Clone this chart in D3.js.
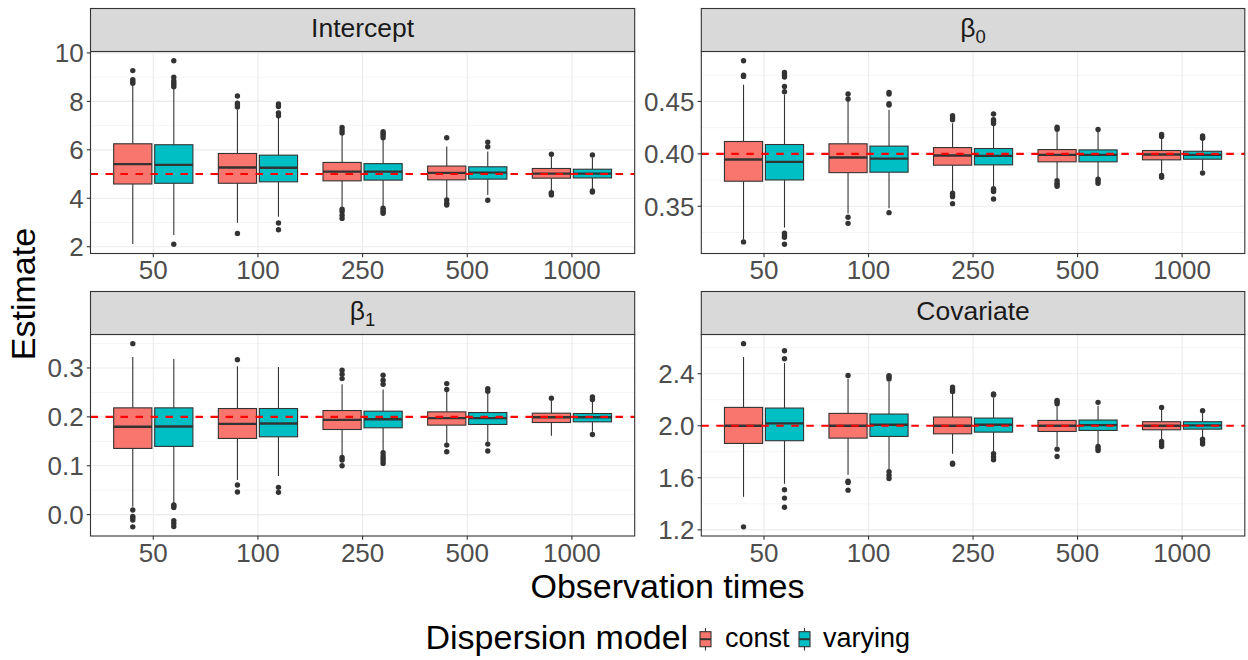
<!DOCTYPE html>
<html>
<head>
<meta charset="utf-8">
<script src="https://cdn.jsdelivr.net/npm/d3@7"></script>
<style>
  html, body { margin: 0; padding: 0; background: #ffffff; }
  svg { display: block; font-family: "Liberation Sans", Arial, Helvetica, sans-serif; }
</style>
</head>
<body>
<svg id="chart" width="1248" height="660"></svg>
<script>
// ---------------- DATA ----------------
const obsTimes = ["50", "100", "250", "500", "1000"];
const models = ["const", "varying"];
const modelColors = ["#F8766D", "#00BFC4"];

const stripMain = ["Intercept", "β", "β", "Covariate"];
const stripSub = ["", "0", "1", ""];
const trueValues = [5, 0.4, 0.2, 2.0];

const yTicksIntercept = [2, 4, 6, 8, 10];
const yTicksBeta0 = [0.35, 0.40, 0.45];
const yTicksBeta1 = [0.0, 0.1, 0.2, 0.3];
const yTicksCovariate = [1.2, 1.6, 2.0, 2.4];
const yTickLabelsIntercept = ["2", "4", "6", "8", "10"];
const yTickLabelsBeta0 = ["0.35", "0.40", "0.45"];
const yTickLabelsBeta1 = ["0.0", "0.1", "0.2", "0.3"];
const yTickLabelsCovariate = ["1.2", "1.6", "2.0", "2.4"];

// box stats per observation time: [lower whisker, Q1, median, Q3, upper whisker]
const interceptConst = [
  [2.11, 4.59, 5.41, 6.25, 8.65],
  [2.99, 4.62, 5.27, 5.85, 7.65],
  [3.65, 4.72, 5.10, 5.48, 6.62],
  [4.00, 4.76, 5.05, 5.33, 6.14],
  [4.32, 4.83, 5.02, 5.23, 5.72]
];
const interceptConstOut = [
  [8.75, 8.82, 8.90, 9.27],
  [2.55, 7.77, 7.85, 7.93, 8.22],
  [3.17, 3.30, 3.45, 3.55, 6.70, 6.80, 6.92],
  [3.72, 3.80, 3.93, 6.50],
  [4.14, 4.20, 4.23, 5.82]
];
const interceptVarying = [
  [2.48, 4.62, 5.38, 6.21, 8.55],
  [3.24, 4.68, 5.26, 5.78, 7.59],
  [3.65, 4.75, 5.10, 5.43, 6.48],
  [4.14, 4.79, 5.06, 5.30, 5.93],
  [4.38, 4.84, 5.02, 5.20, 5.68]
];
const interceptVaryingOut = [
  [2.10, 8.60, 8.68, 8.76, 8.85, 9.00, 9.68],
  [2.70, 2.98, 7.41, 7.52, 7.79, 7.89],
  [3.38, 3.45, 3.52, 3.59, 6.50, 6.60, 6.68, 6.75],
  [3.92, 6.13, 6.32],
  [4.26, 4.30, 5.79]
];

const beta0Const = [
  [0.3180, 0.3739, 0.3946, 0.4118, 0.4660],
  [0.3430, 0.3821, 0.3965, 0.4096, 0.4510],
  [0.3640, 0.3892, 0.3984, 0.4060, 0.4293],
  [0.3768, 0.3924, 0.3990, 0.4041, 0.4213],
  [0.3815, 0.3943, 0.3994, 0.4032, 0.4155]
];
const beta0ConstOut = [
  [0.3160, 0.4739, 0.4750, 0.4889],
  [0.3337, 0.3395, 0.4523, 0.4571],
  [0.3525, 0.3592, 0.3608, 0.3624, 0.4325, 0.4345, 0.4363],
  [0.3690, 0.3705, 0.3720, 0.3745, 0.4235, 0.4255],
  [0.3777, 0.3795, 0.4165, 0.4185]
];
const beta0Varying = [
  [0.3296, 0.3751, 0.3924, 0.4089, 0.4564],
  [0.3480, 0.3825, 0.3955, 0.4074, 0.4420],
  [0.3687, 0.3895, 0.3981, 0.4051, 0.4277],
  [0.3768, 0.3924, 0.3990, 0.4038, 0.4213],
  [0.3847, 0.3949, 0.3990, 0.4025, 0.4145]
];
const beta0VaryingOut = [
  [0.3137, 0.3204, 0.3220, 0.3242, 0.4593, 0.4643, 0.4733, 0.4755, 0.4777],
  [0.3439, 0.4465, 0.4478, 0.4570, 0.4586],
  [0.3570, 0.3640, 0.3655, 0.3668, 0.4290, 0.4310, 0.4325, 0.4380],
  [0.3720, 0.3740, 0.3758, 0.4232],
  [0.3818, 0.4150, 0.4160, 0.4170]
];

const beta1Const = [
  [0.0163, 0.1354, 0.1796, 0.2184, 0.3224],
  [0.0707, 0.1558, 0.1857, 0.2170, 0.3034],
  [0.1218, 0.1741, 0.1939, 0.2129, 0.2667],
  [0.1456, 0.1830, 0.1973, 0.2102, 0.2520],
  [0.1612, 0.1884, 0.1993, 0.2075, 0.2327]
];
const beta1ConstOut = [
  [-0.0250, -0.0110, -0.0070, -0.0040, 0.0095, 0.3497],
  [0.0463, 0.0605, 0.3170],
  [0.1000, 0.1116, 0.1170, 0.2782, 0.2871, 0.2952],
  [0.1286, 0.1422, 0.2558, 0.2680],
  [0.2381]
];
const beta1Varying = [
  [0.0231, 0.1395, 0.1803, 0.2184, 0.3184],
  [0.0789, 0.1592, 0.1864, 0.2170, 0.3020],
  [0.1286, 0.1776, 0.1952, 0.2116, 0.2558],
  [0.1490, 0.1844, 0.1973, 0.2088, 0.2476],
  [0.1694, 0.1898, 0.1993, 0.2068, 0.2306]
];
const beta1VaryingOut = [
  [-0.0245, -0.0180, -0.0122, 0.0143, 0.0175, 0.0197],
  [0.0456, 0.0558],
  [0.1048, 0.1100, 0.1150, 0.1200, 0.1265, 0.2667, 0.2748, 0.2850],
  [0.1300, 0.1442, 0.2524, 0.2578],
  [0.1639, 0.2354, 0.2408]
];

const covariateConst = [
  [1.454, 1.864, 2.000, 2.141, 2.528],
  [1.623, 1.905, 2.000, 2.095, 2.364],
  [1.785, 1.938, 2.000, 2.067, 2.251],
  [1.841, 1.956, 2.000, 2.041, 2.160],
  [1.892, 1.969, 2.000, 2.031, 2.123]
];
const covariateConstOut = [
  [1.223, 2.631],
  [1.505, 1.564, 1.574, 2.387],
  [1.705, 1.712, 2.264, 2.280, 2.297],
  [1.764, 1.820, 2.170, 2.185, 2.195],
  [1.841, 1.860, 1.879, 2.141]
];
const covariateVarying = [
  [1.554, 1.885, 2.018, 2.136, 2.482],
  [1.667, 1.918, 2.008, 2.090, 2.341],
  [1.795, 1.951, 2.008, 2.059, 2.213],
  [1.854, 1.964, 2.005, 2.044, 2.154],
  [1.905, 1.974, 2.003, 2.031, 2.097]
];
const covariateVaryingOut = [
  [1.374, 1.444, 1.508, 2.515, 2.577],
  [1.595, 1.620, 1.646, 2.360, 2.375, 2.385],
  [1.738, 1.760, 1.785, 2.236, 2.245],
  [1.810, 1.825, 1.841, 2.180],
  [1.859, 1.875, 1.897, 2.115]
];

// ---------------- LAYOUT ----------------
const panelDefs = [
  { stats: [interceptConst, interceptVarying], outs: [interceptConstOut, interceptVaryingOut], ticks: yTicksIntercept, labels: yTickLabelsIntercept },
  { stats: [beta0Const, beta0Varying], outs: [beta0ConstOut, beta0VaryingOut], ticks: yTicksBeta0, labels: yTickLabelsBeta0 },
  { stats: [beta1Const, beta1Varying], outs: [beta1ConstOut, beta1VaryingOut], ticks: yTicksBeta1, labels: yTickLabelsBeta1 },
  { stats: [covariateConst, covariateVarying], outs: [covariateConstOut, covariateVaryingOut], ticks: yTicksCovariate, labels: yTickLabelsCovariate }
];

const cols = [[90.5, 634.7], [701.3, 1244.8]];
const rows = [{ stripTop: 8.5, top: 51.5, bottom: 253.5 }, { stripTop: 291.5, top: 334.5, bottom: 536 }];

const svg = d3.select("#chart");
const dark = "#333333";

panelDefs.forEach((pd, i) => {
  const [x0, x1] = cols[i % 2];
  const r = rows[Math.floor(i / 2)];
  const g = svg.append("g");

  // y scale with 5% expansion from data
  const allVals = [];
  pd.stats.forEach(s => s.forEach(b => allVals.push(b[0], b[4])));
  pd.outs.forEach(o => o.forEach(arr => arr.forEach(v => allVals.push(v))));
  const [mn, mx] = d3.extent(allVals);
  const pad = (mx - mn) * 0.05;
  const y = d3.scaleLinear().domain([mn - pad, mx + pad]).range([r.bottom, r.top]);

  const x = d3.scalePoint().domain(obsTimes).range([x0, x1]).padding(0.6);
  const step = x.step();

  // background
  g.append("rect").attr("x", x0).attr("y", r.top).attr("width", x1 - x0).attr("height", r.bottom - r.top).attr("fill", "#ffffff");

  // minor grid
  const tks = pd.ticks;
  const tstep = tks[1] - tks[0];
  const minors = [];
  for (let k = -1; k < tks.length; k++) {
    const v = tks[0] + (k + 0.5) * tstep;
    if (v > y.domain()[0] && v < y.domain()[1]) minors.push(v);
  }
  g.selectAll(".minor").data(minors).enter().append("line")
    .attr("x1", x0).attr("x2", x1).attr("y1", d => y(d)).attr("y2", d => y(d))
    .attr("stroke", "#EBEBEB").attr("stroke-width", 0.55);
  // major grid
  g.selectAll(".majory").data(tks).enter().append("line")
    .attr("x1", x0).attr("x2", x1).attr("y1", d => y(d)).attr("y2", d => y(d))
    .attr("stroke", "#EBEBEB").attr("stroke-width", 1.1);
  g.selectAll(".majorx").data(obsTimes).enter().append("line")
    .attr("x1", d => x(d)).attr("x2", d => x(d)).attr("y1", r.top).attr("y2", r.bottom)
    .attr("stroke", "#EBEBEB").attr("stroke-width", 1.1);

  // boxes
  const offs = [-0.196, 0.196];
  const bw = 0.365 * step;
  models.forEach((m, mi) => {
    const stats = pd.stats[mi];
    const outs = pd.outs[mi];
    obsTimes.forEach((t, ti) => {
      const cx = x(t) + offs[mi] * step;
      const b = stats[ti];
      // whiskers
      g.append("line").attr("x1", cx).attr("x2", cx).attr("y1", y(b[3])).attr("y2", y(b[4]))
        .attr("stroke", dark).attr("stroke-width", 1.1);
      g.append("line").attr("x1", cx).attr("x2", cx).attr("y1", y(b[1])).attr("y2", y(b[0]))
        .attr("stroke", dark).attr("stroke-width", 1.1);
      // outliers
      g.selectAll(null).data(outs[ti]).enter().append("circle")
        .attr("cx", cx).attr("cy", d => y(d)).attr("r", 2.7).attr("fill", dark);
      // box
      g.append("rect").attr("x", cx - bw / 2).attr("width", bw)
        .attr("y", y(b[3])).attr("height", y(b[1]) - y(b[3]))
        .attr("fill", modelColors[mi]).attr("stroke", dark).attr("stroke-width", 1.1);
      // median
      g.append("line").attr("x1", cx - bw / 2).attr("x2", cx + bw / 2).attr("y1", y(b[2])).attr("y2", y(b[2]))
        .attr("stroke", dark).attr("stroke-width", 2.4);
    });
  });

  // true value reference line
  g.append("line").attr("x1", x0).attr("x2", x1).attr("y1", y(trueValues[i])).attr("y2", y(trueValues[i]))
    .attr("stroke", "#FF0000").attr("stroke-width", 2.1).attr("stroke-dasharray", "7.5,7.5");

  // panel border
  g.append("rect").attr("x", x0).attr("y", r.top).attr("width", x1 - x0).attr("height", r.bottom - r.top)
    .attr("fill", "none").attr("stroke", dark).attr("stroke-width", 1.1);

  // strip
  g.append("rect").attr("x", x0).attr("y", r.stripTop).attr("width", x1 - x0).attr("height", r.top - r.stripTop)
    .attr("fill", "#D9D9D9").attr("stroke", dark).attr("stroke-width", 1.1);
  const st = g.append("text").attr("x", (x0 + x1) / 2).attr("y", r.stripTop + 28.4)
    .attr("text-anchor", "middle").attr("fill", "#1A1A1A").attr("font-size", "26.5px");
  st.append("tspan").text(stripMain[i]);
  if (stripSub[i]) {
    st.append("tspan").attr("font-size", "18.5px").attr("dy", 6).text(stripSub[i]);
  }

  // y axis ticks
  g.selectAll(".yt").data(tks).enter().append("line")
    .attr("x1", x0 - 3.7).attr("x2", x0).attr("y1", d => y(d)).attr("y2", d => y(d))
    .attr("stroke", dark).attr("stroke-width", 1.1);
  g.selectAll(".ytl").data(tks).enter().append("text")
    .attr("x", x0 - 6.8).attr("y", d => y(d)).attr("dy", "0.36em")
    .attr("text-anchor", "end").attr("fill", "#4D4D4D").attr("font-size", "26px")
    .text((d, k) => pd.labels[k]);

  // x axis ticks
  g.selectAll(".xt").data(obsTimes).enter().append("line")
    .attr("x1", d => x(d)).attr("x2", d => x(d)).attr("y1", r.bottom).attr("y2", r.bottom + 3.7)
    .attr("stroke", dark).attr("stroke-width", 1.1);
  g.selectAll(".xtl").data(obsTimes).enter().append("text")
    .attr("x", d => x(d)).attr("y", r.bottom + 25.5)
    .attr("text-anchor", "middle").attr("fill", "#4D4D4D").attr("font-size", "26px")
    .text(d => d);
});

// axis titles
svg.append("text").attr("x", 667.5).attr("y", 597.5).attr("text-anchor", "middle")
  .attr("font-size", "34px").attr("fill", "#000").text("Observation times");
svg.append("text").attr("transform", "translate(35,294) rotate(-90)").attr("text-anchor", "middle")
  .attr("font-size", "34px").attr("fill", "#000").text("Estimate");

// legend
const lg = svg.append("g");
lg.append("text").attr("x", 425.5).attr("y", 649).attr("font-size", "34px").attr("fill", "#000").text("Dispersion model");
const keyX = [700, 799];
const labX = [725, 823];
models.forEach((m, mi) => {
  const kx = keyX[mi];
  const kc = kx + 5.5;
  lg.append("line").attr("x1", kc).attr("x2", kc).attr("y1", 628).attr("y2", 650.5).attr("stroke", dark).attr("stroke-width", 1.1);
  lg.append("rect").attr("x", kx).attr("y", 631.7).attr("width", 11).attr("height", 15)
    .attr("fill", modelColors[mi]).attr("stroke", dark).attr("stroke-width", 1.1);
  lg.append("line").attr("x1", kx).attr("x2", kx + 11).attr("y1", 639.2).attr("y2", 639.2).attr("stroke", dark).attr("stroke-width", 2);
  lg.append("text").attr("x", labX[mi]).attr("y", 647).attr("font-size", "27px").attr("fill", "#000").text(m);
});
</script>
</body>
</html>
